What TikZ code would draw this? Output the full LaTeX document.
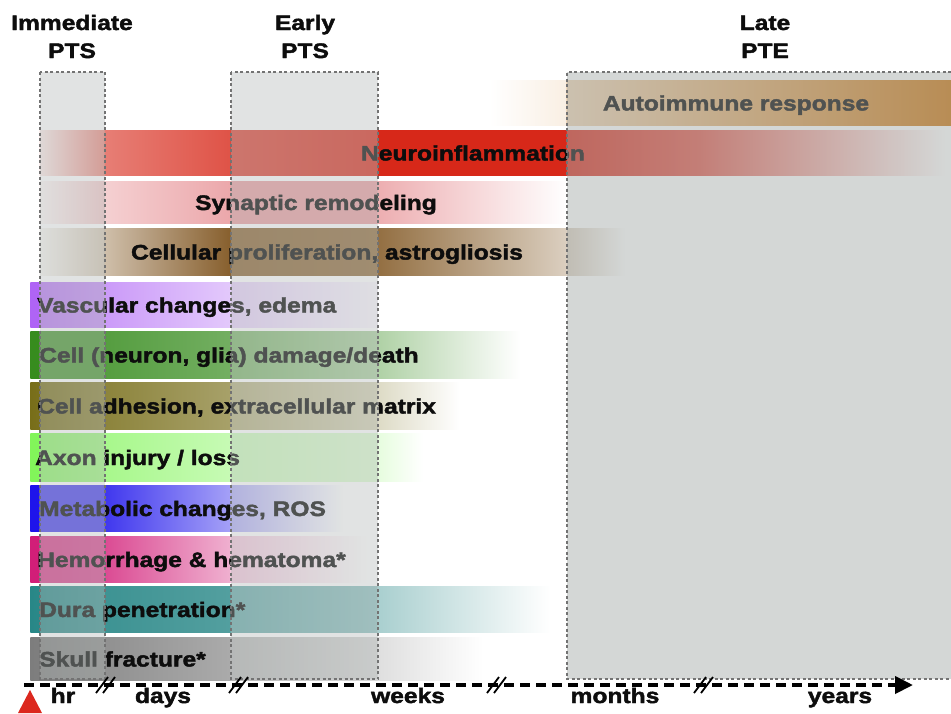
\documentclass[tikz,border=0pt]{standalone}
\usepackage{fontspec}
\newfontfamily\lblfont{Liberation Sans}[FakeStretch=1.17, BoldFeatures={FakeBold=2}]
\usepackage{tikz}
\usetikzlibrary{arrows.meta}
\usepackage{xcolor}

\definecolor{autoC}{RGB}{205,120,20}
\definecolor{neuroC}{RGB}{215,40,25}
\definecolor{synC}{RGB}{225,120,125}
\definecolor{prolC}{RGB}{135,95,45}
\definecolor{vascC}{RGB}{175,100,245}
\definecolor{dmgC}{RGB}{55,140,30}
\definecolor{adhC}{RGB}{120,110,25}
\definecolor{axC}{RGB}{130,245,90}
\definecolor{metC}{RGB}{30,20,235}
\definecolor{hemC}{RGB}{210,30,120}
\definecolor{duraC}{RGB}{40,135,135}
\definecolor{skC}{RGB}{125,125,125}
\definecolor{boxC}{RGB}{180,186,184}
\definecolor{lateC}{RGB}{160,167,165}
\definecolor{injC}{RGB}{220,40,30}

\begin{document}
\begin{tikzpicture}[x=1pt,y=-1pt,
    lbl/.style={font=\lblfont\bfseries\fontsize{21}{28}\selectfont, inner sep=0pt, text=black!95},
    rowlbl/.style={lbl, anchor=base west},
    ctrlbl/.style={lbl, anchor=base},
    phase/.style={lbl, align=center, anchor=base},
    boxfill/.style={fill=boxC, fill opacity=0.4},
    boxline/.style={draw=black!55, line width=1.1pt, dash pattern=on 3pt off 2.5pt},
    brk/.style={line width=1.8pt}]
\useasboundingbox (0,0) rectangle (951,713);

% phases
\node[phase] (hdrImm) at (72,58) {Immediate\\PTS};
\node[phase] (hdrEarly) at (305,58) {Early\\PTS};
\node[phase] (hdrLate) at (765,58) {Late\\PTE};

% bars
\foreach \xa/\xb/\pa/\pb in {490/567/0/12, 567/951/30/100}
  \shade[left color=autoC!\pa, right color=autoC!\pb] (\xa-0.6,80) rectangle (\xb,125);
\foreach \xa/\xb/\pa/\pb in {40/105/8/55, 105/231/60/80, 231/378/85/95, 378/567/100/100, 567/700/95/75, 700/945/75/0}
  \shade[left color=neuroC!\pa, right color=neuroC!\pb] (\xa-0.6,130) rectangle (\xb,175);
\foreach \xa/\xb/\pa/\pb in {40/105/5/40, 105/231/35/65, 231/378/70/70, 378/567/60/0}
  \shade[left color=synC!\pa, right color=synC!\pb] (\xa-0.6,181) rectangle (\xb,223);
\foreach \xa/\xb/\pa/\pb in {40/105/5/35, 105/231/40/100, 231/378/95/90, 378/567/90/30, 567/625/30/0}
  \shade[left color=prolC!\pa, right color=prolC!\pb] (\xa-0.6,228) rectangle (\xb,275);
\foreach \xa/\xb/\pa/\pb in {31/40/100/100, 40/105/85/70, 105/231/65/35, 231/378/30/5}
  \shade[left color=vascC!\pa, right color=vascC!\pb] (\xa-0.6,282) rectangle (\xb,327);
\foreach \xa/\xb/\pa/\pb in {31/40/100/100, 40/105/90/90, 105/231/85/70, 231/378/65/40, 378/520/40/0}
  \shade[left color=dmgC!\pa, right color=dmgC!\pb] (\xa-0.6,331) rectangle (\xb,378);
\foreach \xa/\xb/\pa/\pb in {31/105/100/85, 105/231/85/65, 231/378/55/30, 378/460/25/0}
  \shade[left color=adhC!\pa, right color=adhC!\pb] (\xa-0.6,382) rectangle (\xb,429);
\foreach \xa/\xb/\pa/\pb in {31/40/100/100, 40/105/90/75, 105/231/70/45, 231/378/40/25, 378/423/20/0}
  \shade[left color=axC!\pa, right color=axC!\pb] (\xa-0.6,433) rectangle (\xb,481);
\foreach \xa/\xb/\pa/\pb in {31/40/100/100, 40/105/80/80, 105/231/85/40, 231/343/35/0}
  \shade[left color=metC!\pa, right color=metC!\pb] (\xa-0.6,485) rectangle (\xb,531);
\foreach \xa/\xb/\pa/\pb in {31/40/100/100, 40/105/85/80, 105/231/80/35, 231/367/25/0}
  \shade[left color=hemC!\pa, right color=hemC!\pb] (\xa-0.6,536) rectangle (\xb,582);
\foreach \xa/\xb/\pa/\pb in {31/105/100/90, 105/231/90/80, 231/378/70/50, 378/550/40/0}
  \shade[left color=duraC!\pa, right color=duraC!\pb] (\xa-0.6,586) rectangle (\xb,632);
\foreach \xa/\xb/\pa/\pb in {31/105/100/90, 105/231/85/65, 231/378/55/30, 378/483/25/0}
  \shade[left color=skC!\pa, right color=skC!\pb] (\xa-0.6,637) rectangle (\xb,680);

% bar labels
\node[ctrlbl] (lAuto) at (736,110.5) {Autoimmune response};
\node[ctrlbl] (lNeuro) at (473,160.5) {Neuroinflammation};
\node[ctrlbl] (lSyn) at (316,210) {Synaptic remodeling};
\node[ctrlbl] (lProl) at (327,259.5) {Cellular proliferation, astrogliosis};
\node[rowlbl] (lVasc) at (37,312.5) {Vascular changes, edema};
\node[rowlbl] (lDmg) at (39,362.5) {Cell (neuron, glia) damage/death};
\node[rowlbl] (lAdh) at (37,413.5) {Cell adhesion, extracellular matrix};
\node[rowlbl] (lAxon) at (35,465) {Axon injury / loss};
\node[rowlbl] (lMet) at (39,516) {Metabolic changes, ROS};
\node[rowlbl] (lHem) at (37,567) {Hemorrhage \& hematoma*};
\node[rowlbl] (lDura) at (39,617) {Dura penetration*};
\node[rowlbl] (lSkull) at (39,666.5) {Skull fracture*};

% phase windows on top
\fill[boxfill] (40,72) rectangle (105,679);
\fill[boxfill] (231,72) rectangle (378,679);
\fill[fill=lateC, fill opacity=0.45] (567,72) rectangle (951,679);
\draw[boxline] (40,72) rectangle (105,679);
\draw[boxline] (231,72) rectangle (378,679);
\draw[boxline] (951,72) -- (567,72) -- (567,679) -- (951,679);

% time axis
\coordinate (axL) at (24,685);
\coordinate (axR) at (913,685);
\draw[line width=4pt, dash pattern=on 10pt off 6pt, -{Triangle[length=18pt,width=17pt]}] (axL) -- (axR);
\foreach \bx in {107,240,498,705} {
  \draw[brk] (\bx-11,693) -- (\bx+1,677);
  \draw[brk] (\bx-4,693) -- (\bx+8,677);
}
\node[ctrlbl] (tHr) at (63,703) {hr};
\node[ctrlbl] (tDays) at (163,703) {days};
\node[ctrlbl] (tWeeks) at (408,703) {weeks};
\node[ctrlbl] (tMonths) at (615,703) {months};
\node[ctrlbl] (tYears) at (840,703) {years};
\fill[injC] (18,713) -- (30,690) -- (42,713) -- cycle;
\end{tikzpicture}
\end{document}
